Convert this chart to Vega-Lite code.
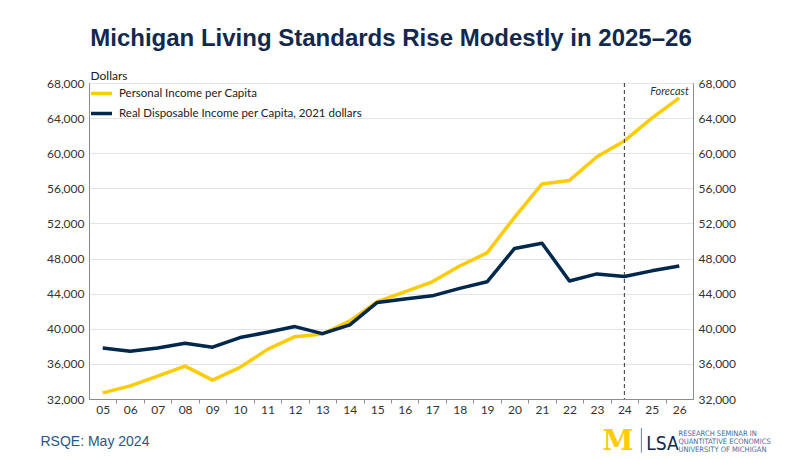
{
  "$schema": "https://vega.github.io/schema/vega-lite/v6.json",
  "width": 604,
  "height": 316,
  "autosize": {"type": "none"},
  "padding": {"left": 89, "top": 83, "right": 107, "bottom": 60},
  "background": "#ffffff",
  "title": {
    "text": "Michigan Living Standards Rise Modestly in 2025–26",
    "font": "Liberation Sans",
    "fontSize": 24,
    "fontWeight": "bold",
    "color": "#12294b",
    "anchor": "middle",
    "frame": "group",
    "offset": 18
  },
  "datasets": {
    "income": [
      {"year": 5, "series": "Personal Income per Capita", "value": 32700},
      {"year": 6, "series": "Personal Income per Capita", "value": 33500},
      {"year": 7, "series": "Personal Income per Capita", "value": 34600},
      {"year": 8, "series": "Personal Income per Capita", "value": 35750},
      {"year": 9, "series": "Personal Income per Capita", "value": 34150},
      {"year": 10, "series": "Personal Income per Capita", "value": 35600},
      {"year": 11, "series": "Personal Income per Capita", "value": 37650},
      {"year": 12, "series": "Personal Income per Capita", "value": 39100},
      {"year": 13, "series": "Personal Income per Capita", "value": 39400},
      {"year": 14, "series": "Personal Income per Capita", "value": 40900},
      {"year": 15, "series": "Personal Income per Capita", "value": 43100},
      {"year": 16, "series": "Personal Income per Capita", "value": 44200},
      {"year": 17, "series": "Personal Income per Capita", "value": 45350},
      {"year": 18, "series": "Personal Income per Capita", "value": 47150},
      {"year": 19, "series": "Personal Income per Capita", "value": 48650},
      {"year": 20, "series": "Personal Income per Capita", "value": 52700},
      {"year": 21, "series": "Personal Income per Capita", "value": 56500},
      {"year": 22, "series": "Personal Income per Capita", "value": 56900},
      {"year": 23, "series": "Personal Income per Capita", "value": 59600},
      {"year": 24, "series": "Personal Income per Capita", "value": 61400},
      {"year": 25, "series": "Personal Income per Capita", "value": 64000},
      {"year": 26, "series": "Personal Income per Capita", "value": 66300},
      {"year": 5, "series": "Real Disposable Income per Capita, 2021 dollars", "value": 37800},
      {"year": 6, "series": "Real Disposable Income per Capita, 2021 dollars", "value": 37450},
      {"year": 7, "series": "Real Disposable Income per Capita, 2021 dollars", "value": 37800},
      {"year": 8, "series": "Real Disposable Income per Capita, 2021 dollars", "value": 38350},
      {"year": 9, "series": "Real Disposable Income per Capita, 2021 dollars", "value": 37900},
      {"year": 10, "series": "Real Disposable Income per Capita, 2021 dollars", "value": 39000},
      {"year": 11, "series": "Real Disposable Income per Capita, 2021 dollars", "value": 39600},
      {"year": 12, "series": "Real Disposable Income per Capita, 2021 dollars", "value": 40250},
      {"year": 13, "series": "Real Disposable Income per Capita, 2021 dollars", "value": 39450},
      {"year": 14, "series": "Real Disposable Income per Capita, 2021 dollars", "value": 40450},
      {"year": 15, "series": "Real Disposable Income per Capita, 2021 dollars", "value": 43000},
      {"year": 16, "series": "Real Disposable Income per Capita, 2021 dollars", "value": 43400},
      {"year": 17, "series": "Real Disposable Income per Capita, 2021 dollars", "value": 43750},
      {"year": 18, "series": "Real Disposable Income per Capita, 2021 dollars", "value": 44600},
      {"year": 19, "series": "Real Disposable Income per Capita, 2021 dollars", "value": 45350},
      {"year": 20, "series": "Real Disposable Income per Capita, 2021 dollars", "value": 49150},
      {"year": 21, "series": "Real Disposable Income per Capita, 2021 dollars", "value": 49750},
      {"year": 22, "series": "Real Disposable Income per Capita, 2021 dollars", "value": 45450},
      {"year": 23, "series": "Real Disposable Income per Capita, 2021 dollars", "value": 46250},
      {"year": 24, "series": "Real Disposable Income per Capita, 2021 dollars", "value": 45950},
      {"year": 25, "series": "Real Disposable Income per Capita, 2021 dollars", "value": 46600},
      {"year": 26, "series": "Real Disposable Income per Capita, 2021 dollars", "value": 47150}
    ],
    "forecast": [{"year": 24, "label": "Forecast"}]
  },
  "resolve": {"scale": {"y": "shared", "x": "shared"}, "axis": {"y": "independent"}},
  "layer": [
    {
      "data": {"name": "income"},
      "mark": {"type": "line", "strokeWidth": 3.5, "strokeJoin": "round", "strokeCap": "butt"},
      "encoding": {
        "x": {
          "field": "year",
          "type": "quantitative",
          "scale": {"domain": [4.5, 26.5], "nice": false, "zero": false},
          "axis": {
            "values": [5, 5.5, 6, 6.5, 7, 7.5, 8, 8.5, 9, 9.5, 10, 10.5, 11, 11.5, 12, 12.5, 13, 13.5, 14, 14.5, 15, 15.5, 16, 16.5, 17, 17.5, 18, 18.5, 19, 19.5, 20, 20.5, 21, 21.5, 22, 22.5, 23, 23.5, 24, 24.5, 25, 25.5, 26],
            "tickCount": 100,
            "labelExpr": "datum.value % 1 ? '' : (datum.value < 10 ? '0' : '') + datum.value",
            "labelOverlap": false,
            "labelFlush": false,
            "labelBound": false,
            "tickOpacity": {"condition": {"test": "datum.value % 1 === 0", "value": 0}, "value": 1},
            "tickSize": 4,
            "labelPadding": 1,
            "grid": false,
            "title": "RSQE: May 2024",
            "titleFont": "Liberation Sans",
            "titleFontSize": 14,
            "titleFontWeight": "normal",
            "titleColor": "#2b5582",
            "titleAlign": "left",
            "titleAnchor": "start",
            "titleBaseline": "alphabetic",
            "titleX": -49,
            "titleY": 46
          }
        },
        "y": {
          "field": "value",
          "type": "quantitative",
          "scale": {"domain": [32000, 68000], "nice": false, "zero": false},
          "axis": {
            "orient": "left",
            "values": [32000, 36000, 40000, 44000, 48000, 52000, 56000, 60000, 64000, 68000],
            "tickCount": 20,
            "format": ",.0f",
            "ticks": false,
            "labelPadding": 5,
            "grid": true,
            "gridColor": "#e4e4e4",
            "gridWidth": 1,
            "title": "Dollars",
            "titleFont": "Lato",
            "titleFontSize": 12,
            "titleFontWeight": "normal",
            "titleColor": "#222222",
            "titleAngle": 0,
            "titleAlign": "left",
            "titleBaseline": "alphabetic",
            "titleX": 1,
            "titleY": -4
          }
        },
        "color": {
          "field": "series",
          "type": "nominal",
          "scale": {
            "domain": ["Personal Income per Capita", "Real Disposable Income per Capita, 2021 dollars"],
            "range": ["#FFCB05", "#00274C"]
          },
          "legend": {
            "orient": "none",
            "legendX": 0,
            "legendY": -2,
            "padding": 0,
            "title": null,
            "symbolType": "stroke",
            "symbolSize": 441,
            "symbolStrokeWidth": 3.5,
            "labelFont": "Lato",
            "labelFontSize": 11.5,
            "labelColor": "#222222",
            "labelOffset": 5,
            "labelLimit": 400,
            "rowPadding": -3
          }
        }
      }
    },
    {
      "data": {"name": "forecast"},
      "mark": {"type": "rule", "color": "#333333", "strokeWidth": 1, "strokeDash": [4, 3]},
      "encoding": {"x": {"field": "year", "type": "quantitative"}}
    },
    {
      "data": {"name": "forecast"},
      "mark": {"type": "text", "font": "Lato", "fontSize": 11, "fontStyle": "italic", "color": "#333333", "align": "right", "baseline": "middle"},
      "encoding": {
        "text": {"field": "label"},
        "x": {"datum": 26.35, "type": "quantitative"},
        "y": {
          "datum": 66975,
          "type": "quantitative",
          "axis": {
            "orient": "right",
            "values": [32000, 36000, 40000, 44000, 48000, 52000, 56000, 60000, 64000, 68000],
            "tickCount": 20,
            "format": ",.0f",
            "ticks": false,
            "domain": true,
            "labelPadding": 5,
            "grid": false,
            "title": ["RESEARCH SEMINAR IN", "QUANTITATIVE ECONOMICS", "UNIVERSITY OF MICHIGAN"],
            "titleFont": "DejaVu Sans Condensed, Liberation Sans",
            "titleFontSize": 7.5,
            "titleFontWeight": "normal",
            "titleColor": "#4a6d96",
            "titleAngle": 0,
            "titleAlign": "left",
            "titleBaseline": "alphabetic",
            "titleLineHeight": 8,
            "titleX": -15,
            "titleY": 352
          }
        }
      }
    },
    {
      "data": {"values": [{"mark": "M"}]},
      "mark": {"type": "text", "font": "DejaVu Serif", "fontSize": 28, "fontWeight": "bold", "color": "#FFCB05", "align": "center", "baseline": "alphabetic"},
      "encoding": {
        "text": {"field": "mark"},
        "x": {"datum": 23.77, "type": "quantitative"},
        "y": {"datum": 26200, "type": "quantitative", "axis": null}
      }
    },
    {
      "data": {"values": [{"mark": "LSA"}]},
      "mark": {"type": "text", "font": "DejaVu Sans Condensed, Liberation Sans", "fontSize": 19, "fontWeight": "normal", "color": "#12294b", "align": "left", "baseline": "alphabetic"},
      "encoding": {
        "text": {"field": "mark"},
        "x": {"datum": 24.8, "type": "quantitative"},
        "y": {"datum": 26200, "type": "quantitative", "axis": null}
      }
    },
    {
      "data": {"values": [{"mark": "divider"}]},
      "mark": {"type": "rule", "color": "#6d7f97", "strokeWidth": 1},
      "encoding": {
        "x": {"datum": 24.62, "type": "quantitative"},
        "y": {"datum": 25900, "type": "quantitative", "axis": null},
        "y2": {"datum": 28700}
      }
    }
  ],
  "config": {
    "view": {"stroke": "#8c8c8c", "strokeWidth": 1},
    "axis": {
      "labelFont": "Lato",
      "labelFontSize": 12,
      "labelColor": "#333333",
      "labelOverlap": false,
      "domainColor": "#8c8c8c",
      "domainWidth": 1,
      "tickColor": "#8c8c8c"
    }
  }
}
